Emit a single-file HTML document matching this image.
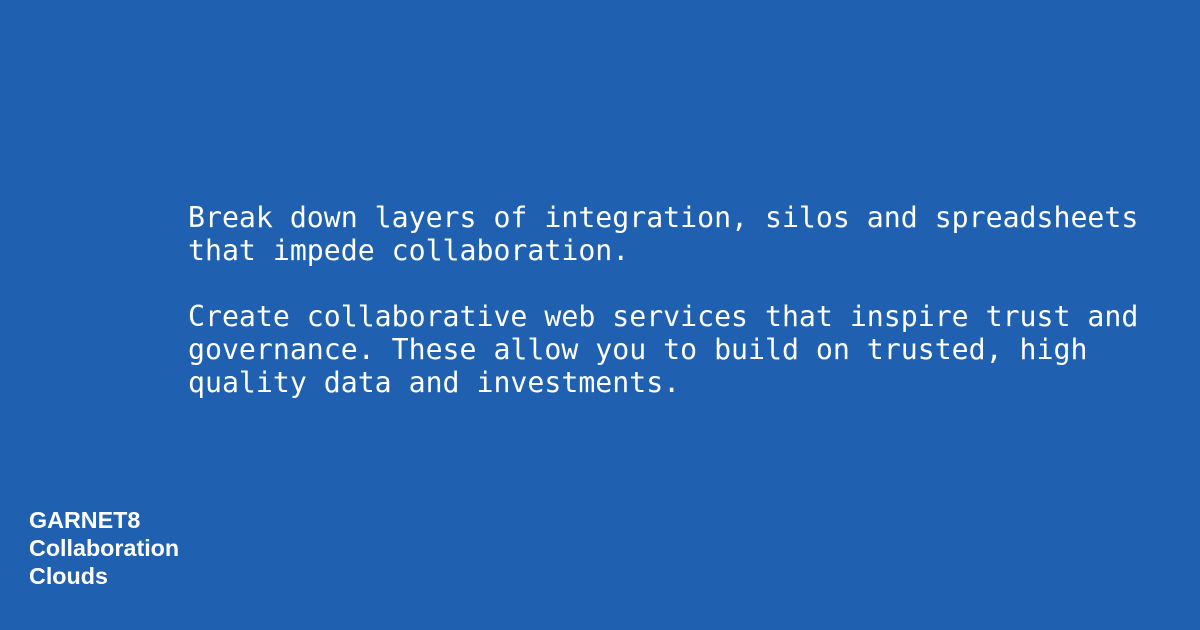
<!DOCTYPE html>
<html>
<head>
<meta charset="utf-8">
<style>
  html, body { margin: 0; padding: 0; }
  body { width: 1200px; height: 630px; background: #1f61b0; position: relative; overflow: hidden; }
  .msg { position: absolute; left: 188px; top: 201px; color: #ffffff;
         font-family: "DejaVu Sans Mono", "Liberation Mono", monospace; font-size: 28.2px; line-height: 33px; white-space: nowrap; }
  .msg p { margin: 0 0 33px 0; }
  .brand { position: absolute; left: 29px; top: 506px; color: #ffffff;
           font-family: "Liberation Sans", sans-serif; font-weight: bold; font-size: 23.3px; line-height: 28px; }
</style>
</head>
<body>
<div class="msg"><p>Break down layers of integration, silos and spreadsheets<br>that impede collaboration.</p><p>Create collaborative web services that inspire trust and<br>governance. These allow you to build on trusted, high<br>quality data and investments.</p></div>
<div class="brand">GARNET8<br>Collaboration<br>Clouds</div>
</body>
</html>
